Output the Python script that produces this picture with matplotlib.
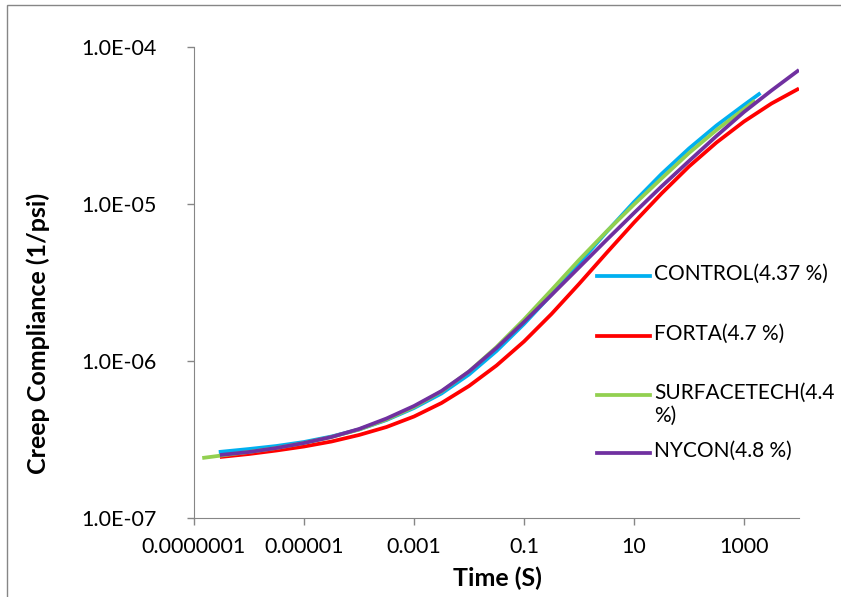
import matplotlib.pyplot as plt
import numpy as np
from matplotlib.lines import Line2D
from matplotlib.patches import Rectangle

# time (s) and creep compliance (1/psi)
control_t = [10**-6.55, 1e-6, 10**-5.5, 1e-5, 10**-4.5, 1e-4, 10**-3.5, 1e-3, 10**-2.5, 1e-2,
             10**-1.5, 1e-1, 10**-0.5, 1, 10**0.5, 10, 10**1.5, 100, 10**2.5, 1000, 10**3.3]
control_d = [2.633e-7, 2.751e-7, 2.875e-7, 3.049e-7, 3.305e-7, 3.661e-7, 4.209e-7, 5.018e-7, 6.209e-7, 8.204e-7,
             1.158e-6, 1.721e-6, 2.652e-6, 4.178e-6, 6.633e-6, 1.030e-5, 1.553e-5, 2.257e-5, 3.162e-5, 4.272e-5, 5.093e-5]

forta_t = [10**-6.53, 1e-6, 10**-5.5, 1e-5, 10**-4.5, 1e-4, 10**-3.5, 1e-3, 10**-2.5, 1e-2,
           10**-1.5, 1e-1, 10**-0.5, 1, 10**0.5, 10, 10**1.5, 100, 10**2.5, 1000, 10**3.5, 1e4]
forta_d = [2.446e-7, 2.556e-7, 2.691e-7, 2.853e-7, 3.070e-7, 3.378e-7, 3.798e-7, 4.430e-7, 5.400e-7, 6.930e-7,
           9.360e-7, 1.331e-6, 1.993e-6, 3.094e-6, 4.875e-6, 7.620e-6, 1.166e-5, 1.734e-5, 2.464e-5, 3.353e-5, 4.366e-5, 5.440e-5]

surf_t = [10**-6.85, 10**-6.5, 1e-6, 10**-5.5, 1e-5, 10**-4.5, 1e-4, 10**-3.5, 1e-3, 10**-2.5, 1e-2,
          10**-1.5, 1e-1, 10**-0.5, 1, 10**0.5, 10, 10**1.5, 100, 10**2.5, 1000, 10**3.2]
surf_d = [2.411e-7, 2.501e-7, 2.633e-7, 2.792e-7, 3.004e-7, 3.281e-7, 3.661e-7, 4.240e-7, 5.093e-7, 6.393e-7, 8.570e-7,
          1.228e-6, 1.838e-6, 2.833e-6, 4.398e-6, 6.680e-6, 9.930e-6, 1.454e-5, 2.112e-5, 2.960e-5, 4.029e-5, 4.562e-5]

nycon_t = [10**-6.53, 1e-6, 10**-5.5, 1e-5, 10**-4.5, 1e-4, 10**-3.5, 1e-3, 10**-2.5, 1e-2,
           10**-1.5, 1e-1, 10**-0.5, 1, 10**0.5, 10, 10**1.5, 100, 10**2.5, 1000, 10**3.5, 1e4]
nycon_d = [2.519e-7, 2.633e-7, 2.792e-7, 3.004e-7, 3.281e-7, 3.688e-7, 4.303e-7, 5.169e-7, 6.440e-7, 8.570e-7,
           1.210e-6, 1.772e-6, 2.633e-6, 3.939e-6, 5.898e-6, 8.760e-6, 1.293e-5, 1.878e-5, 2.711e-5, 3.855e-5, 5.283e-5, 7.140e-5]

labels = ['CONTROL(4.37 %)', 'FORTA(4.7 %)', 'SURFACETECH(4.4\n%)', 'NYCON(4.8 %)']
colors = ['#00B0F0', '#FF0000', '#92D050', '#7030A0']
series = [(control_t, control_d), (forta_t, forta_d), (surf_t, surf_d), (nycon_t, nycon_d)]

xticks = [1e-7, 1e-5, 1e-3, 1e-1, 10, 1000]
xticklabels = ['0.0000001', '0.00001', '0.001', '0.1', '10', '1000']
yticks = [1e-7, 1e-6, 1e-5, 1e-4]
yticklabels = ['1.0E-07', '1.0E-06', '1.0E-05', '1.0E-04']

plt.rcParams['font.family'] = ['Lato', 'DejaVu Sans']
W, H = 841, 597
fig = plt.figure(figsize=(W / 100, H / 100), dpi=100)
ax = fig.add_axes([194 / W, 1 - 518 / H, (799 - 194) / W, (518 - 47) / H])

for (t, d), c in zip(series, colors):
    ax.plot(t, d, color=c, lw=2.7, solid_capstyle='butt', solid_joinstyle='round')

ax.set_xscale('log')
ax.set_yscale('log')
ax.set_xlim(1e-7, 1e4)
ax.set_ylim(1e-7, 1e-4)
ax.set_xticks(xticks)
ax.set_xticklabels(xticklabels, fontsize=15.5)
ax.set_yticks(yticks)
ax.set_yticklabels(yticklabels, fontsize=15.5)
ax.minorticks_off()
ax.tick_params(axis='both', direction='out', length=5, color='#868686', width=1)
ax.tick_params(axis='x', pad=9)
ax.tick_params(axis='y', pad=22)
for s in ['top', 'right']:
    ax.spines[s].set_visible(False)
for s in ['left', 'bottom']:
    ax.spines[s].set_color('#868686')

ax.set_xlabel('Time (S)', fontsize=18, fontweight='bold')
ax.xaxis.set_label_coords((497 - 194) / 605, -(578 - 518) / 471)
ax.set_ylabel('Creep Compliance (1/psi)', fontsize=18, fontweight='bold')
ax.yaxis.set_label_coords((38 - 194) / 605, (518 - 333) / 471)
ax.xaxis.label.set_va('center')
ax.yaxis.label.set_va('center')

# legend drawn by hand so the wrapped label keeps its line on the first row
leg_y = [276, 336, 395, 453]
for y, c, lab in zip(leg_y, colors, labels):
    fig.add_artist(Line2D([597 / W, 650 / W], [1 - y / H, 1 - y / H], color=c, lw=2.7))
    fig.text(654 / W, 1 - (y - 12) / H, lab, fontsize=15, va='top', ha='left', linespacing=1.2)

fig.add_artist(Rectangle((7 / W, -0.1), 1.2, 1 - 5 / H + 0.1, fill=False,
                         edgecolor='#868686', lw=1, transform=fig.transFigure))

fig.savefig('out.png', dpi=100)
